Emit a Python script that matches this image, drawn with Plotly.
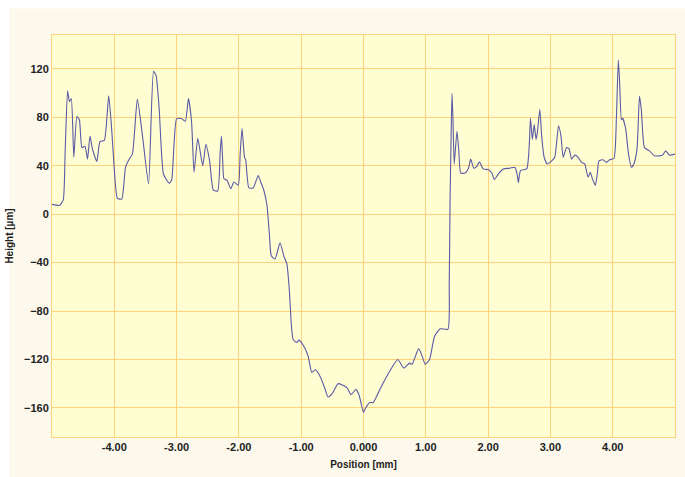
import plotly.graph_objects as go

position_mm = [
    -5.00, -4.88, -4.82, -4.79, -4.75, -4.72, -4.69, -4.65, -4.60, -4.56, -4.52, -4.47,
    -4.43, -4.39, -4.35, -4.28, -4.23, -4.16, -4.09, -4.04, -4.00, -3.95, -3.88, -3.82,
    -3.76, -3.71, -3.63, -3.55, -3.45, -3.37, -3.33, -3.28, -3.21, -3.12, -3.08, -3.00,
    -2.92, -2.86, -2.81, -2.76, -2.72, -2.66, -2.58, -2.53, -2.47, -2.41, -2.34, -2.30,
    -2.28, -2.26, -2.24, -2.19, -2.13, -2.08, -2.01, -1.98, -1.95, -1.91, -1.89, -1.84,
    -1.77, -1.69, -1.65, -1.60, -1.55, -1.51, -1.48, -1.42, -1.34, -1.28, -1.23, -1.19,
    -1.16, -1.13, -1.07, -1.04, -0.97, -0.89, -0.83, -0.77, -0.69, -0.62, -0.57, -0.50,
    -0.41, -0.34, -0.26, -0.20, -0.12, -0.07, 0.00, 0.03, 0.10, 0.155, 0.27, 0.405,
    0.55, 0.645, 0.74, 0.78, 0.885, 0.94, 0.99, 1.06, 1.14, 1.23, 1.355, 1.376,
    1.39, 1.405, 1.42, 1.435, 1.456, 1.50, 1.53, 1.56, 1.63, 1.685, 1.72, 1.77,
    1.82, 1.86, 1.92, 2.005, 2.06, 2.10, 2.165, 2.245, 2.35, 2.43, 2.47, 2.485,
    2.52, 2.62, 2.66, 2.68, 2.71, 2.74, 2.77, 2.79, 2.83, 2.86, 2.90, 2.95,
    3.02, 3.07, 3.13, 3.17, 3.205, 3.26, 3.30, 3.34, 3.39, 3.445, 3.50, 3.55,
    3.605, 3.64, 3.675, 3.72, 3.75, 3.78, 3.845, 3.90, 3.95, 4.02, 4.06, 4.09,
    4.11, 4.14, 4.16, 4.21, 4.25, 4.30, 4.34, 4.39, 4.43, 4.46, 4.51, 4.59,
    4.67, 4.75, 4.80, 4.85, 4.91, 5.00,
]

height_um = [
    8.1, 7.3, 11.6, 49.6, 102.0, 93.0, 95.6, 47.0, 80.7, 78.0, 55.0, 56.0,
    45.5, 64.5, 53.7, 43.6, 60.0, 61.0, 97.8, 68.5, 37.0, 13.0, 12.5, 38.7,
    45.5, 49.6, 95.0, 65.8, 25.0, 118.0, 114.6, 87.5, 33.0, 25.7, 28.0, 79.0,
    79.0, 76.7, 95.6, 76.7, 34.7, 62.6, 40.0, 57.7, 44.0, 19.8, 19.2, 52.0,
    64.5, 44.0, 29.3, 28.0, 21.0, 26.6, 24.0, 49.6, 70.7, 47.0, 44.7, 21.7,
    21.7, 32.0, 26.6, 19.8, 7.6, -16.8, -34.4, -37.0, -23.6, -34.4, -41.0, -63.0,
    -90.0, -103.5, -106.0, -104.0, -108.0, -117.0, -130.6, -128.5, -134.7, -144.0, -151.0, -148.0,
    -140.0, -141.0, -143.6, -149.0, -144.7, -149.6, -163.7, -160.4, -155.5, -155.5, -144.0, -131.0,
    -120.0, -127.0, -123.0, -124.0, -111.0, -117.0, -124.0, -120.0, -101.0, -94.6, -95.0, -57.5,
    13.0, 60.0, 99.7, 80.7, 41.5, 68.5, 52.3, 34.0, 34.0, 38.0, 45.5, 38.0,
    39.6, 43.3, 37.4, 36.8, 34.0, 28.7, 33.3, 37.4, 38.0, 38.8, 32.0, 26.0,
    36.0, 37.4, 56.3, 79.4, 61.8, 74.0, 61.8, 67.0, 86.7, 64.5, 47.0, 41.5,
    44.0, 47.0, 73.0, 64.5, 47.0, 55.0, 54.0, 45.5, 48.8, 47.0, 42.8, 41.5,
    30.6, 34.7, 29.3, 23.8, 32.0, 44.0, 45.0, 42.8, 45.0, 46.0, 80.7, 127.4,
    110.6, 78.0, 79.4, 70.0, 51.0, 38.8, 41.5, 53.7, 97.6, 86.0, 55.0, 52.3,
    48.2, 48.2, 48.8, 52.3, 48.8, 49.6,
]

x_tick_vals = [-4, -3, -2, -1, 0, 1, 2, 3, 4, 5]
x_tick_text = ["-4.00", "-3.00", "-2.00", "-1.00", "0.000", "1.00", "2.00", "3.00", "4.00", "5.00"]
y_tick_vals = [-160, -120, -80, -40, 0, 40, 80, 120]

GRID = "#FFD27C"
TXT = "#222222"

fig = go.Figure()
fig.add_trace(go.Scatter(
    x=position_mm, y=height_um, mode="lines",
    line=dict(color="#5A5AA6", width=1.1, shape="spline", smoothing=0.5),
    showlegend=False, hoverinfo="skip",
))

# white strips at top and left edges of the image
fig.add_shape(type="rect", xref="paper", yref="paper",
              x0=-0.2, x1=-50.7 / 625 + 8 / 625, y0=-0.2, y1=1.2,
              fillcolor="white", line_width=0, layer="below")
fig.add_shape(type="rect", xref="paper", yref="paper",
              x0=-0.2, x1=1.2, y0=1 + 27 / 408, y1=1.2,
              fillcolor="white", line_width=0, layer="below")

fig.update_layout(
    width=685, height=477,
    margin=dict(l=51, r=9, t=35, b=34),
    paper_bgcolor="#FCF8EC",
    plot_bgcolor="#FFFDD2",
    font=dict(family="Liberation Sans, Arial, sans-serif", color=TXT),
    xaxis=dict(
        range=[-5, 5], tickvals=x_tick_vals, ticktext=x_tick_text,
        showgrid=True, gridcolor=GRID, gridwidth=1,
        showline=True, linecolor=GRID, linewidth=1, mirror=True,
        zeroline=False, ticks="",
        tickfont=dict(size=11, weight="bold", color=TXT),
        title=dict(text="Position [mm]", font=dict(size=10, weight="bold", color=TXT), standoff=8),
    ),
    yaxis=dict(
        range=[-184, 148], tickvals=y_tick_vals,
        showgrid=True, gridcolor=GRID, gridwidth=1,
        showline=True, linecolor=GRID, linewidth=1, mirror=True,
        zeroline=False, ticks="",
        tickfont=dict(size=11, weight="bold", color=TXT),
        title=dict(text="Height [µm]", font=dict(size=10, weight="bold", color=TXT), standoff=8),
    ),
)

fig.write_html("out.html")
